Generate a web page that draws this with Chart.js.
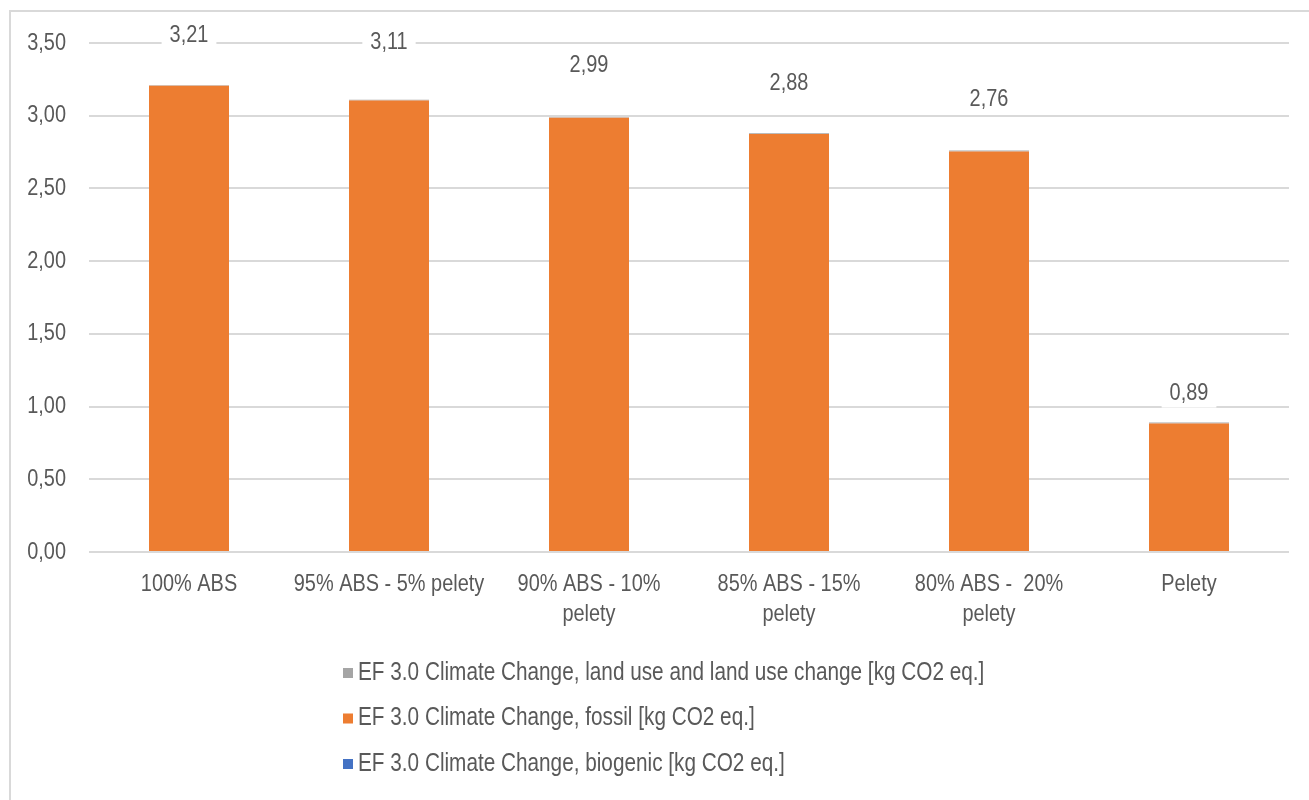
<!DOCTYPE html>
<html>
<head>
<meta charset="utf-8">
<title>EF 3.0 Climate Change</title>
<script src="https://cdn.jsdelivr.net/npm/chart.js@4/dist/chart.umd.min.js"></script>
<style>
  html, body { margin: 0; padding: 0; background: #ffffff; }
  canvas { display: block; }
</style>
</head>
<body>
<canvas id="chart" width="1309" height="800"></canvas>
<script>
// Mixtures of ABS and pellets
const categories = [
  '100% ABS',
  '95% ABS - 5% pelety',
  ['90% ABS - 10%', 'pelety'],
  ['85% ABS - 15%', 'pelety'],
  ['80% ABS -  20%', 'pelety'],
  'Pelety'
];

// kg CO2 eq. per component
const landUse  = [0.004, 0.006, 0.004, 0.005, 0.006, 0.007];
const fossil   = [3.206, 3.104, 2.986, 2.875, 2.754, 0.883];
const biogenic = [0, 0, 0, 0, 0, 0];

const seriesNames = [
  'EF 3.0 Climate Change, land use and land use change [kg CO2 eq.]',
  'EF 3.0 Climate Change, fossil [kg CO2 eq.]',
  'EF 3.0 Climate Change, biogenic [kg CO2 eq.]'
];
const seriesColors = ['#A5A5A5', '#ED7D31', '#4472C4'];

const yTicks = [0, 0.5, 1, 1.5, 2, 2.5, 3, 3.5];

const FAMILY = "'Liberation Sans', Arial, sans-serif";
const NARROW = 0.83;          // horizontal squeeze for a narrow face
const TEXT = '#595959';
const fmt = v => v.toFixed(2).replace('.', ',');

// write narrow text at (x, y)
function narrowText(ctx, text, x, y, align, size) {
  ctx.save();
  ctx.translate(x, y);
  ctx.scale(NARROW, 1);
  ctx.font = (size || 24) + 'px ' + FAMILY;
  ctx.textAlign = align;
  ctx.textBaseline = 'middle';
  ctx.fillText(text, 0, 0);
  ctx.restore();
}
function narrowWidth(ctx, text, size) {
  ctx.save();
  ctx.font = (size || 24) + 'px ' + FAMILY;
  const w = ctx.measureText(text).width * NARROW;
  ctx.restore();
  return w;
}

// outer frame around the chart
const framePlugin = {
  id: 'frame',
  beforeDraw(chart) {
    const ctx = chart.ctx;
    ctx.save();
    ctx.fillStyle = '#ffffff';
    ctx.fillRect(0, 0, chart.width, chart.height);
    ctx.strokeStyle = '#d9d9d9';
    ctx.lineWidth = 2;
    ctx.strokeRect(10, 11, chart.width + 20, chart.height + 20);
    ctx.restore();
  }
};

// axis labels in the narrow face, placed on the library's scales
const axisLabelsPlugin = {
  id: 'axisLabels',
  afterDraw(chart, args, opts) {
    const ctx = chart.ctx;
    const { x: xs, y: ys } = chart.scales;
    ctx.save();
    ctx.fillStyle = TEXT;
    ys.ticks.forEach((t, i) => {
      narrowText(ctx, fmt(t.value), xs.left - opts.yGap, ys.getPixelForTick(i), 'right');
    });
    categories.forEach((c, i) => {
      const lines = Array.isArray(c) ? c : [c];
      const cx = xs.getPixelForTick(i);
      lines.forEach((line, k) => {
        narrowText(ctx, line, cx, ys.bottom + opts.xGap + k * opts.lineHeight, 'center');
      });
    });
    ctx.restore();
  }
};

// stacked totals above each column, on a white patch over the gridlines
const totalsPlugin = {
  id: 'totals',
  afterDatasetsDraw(chart, args, opts) {
    const ctx = chart.ctx;
    const yScale = chart.scales.y;
    const meta = chart.getDatasetMeta(0);
    ctx.save();
    categories.forEach((c, i) => {
      const total = landUse[i] + fossil[i] + biogenic[i];
      const text = fmt(total);
      const x = meta.data[i].x;
      const y = yScale.getPixelForValue(total) - opts.lift[i];
      const w = narrowWidth(ctx, text) + 16;
      ctx.fillStyle = '#ffffff';
      ctx.fillRect(x - w / 2, y - 14, w, 28);
      ctx.fillStyle = TEXT;
      narrowText(ctx, text, x, y, 'center');
    });
    ctx.restore();
  }
};

// vertical legend below the axis
const stackLegendPlugin = {
  id: 'stackLegend',
  afterDraw(chart, args, opts) {
    const ctx = chart.ctx;
    ctx.save();
    seriesNames.forEach((name, i) => {
      const y = opts.top + i * opts.rowGap;
      ctx.fillStyle = seriesColors[i];
      ctx.fillRect(opts.left, y - 5, 10, 10);
      ctx.fillStyle = TEXT;
      narrowText(ctx, name, opts.left + 15, y, 'left', opts.size);
    });
    ctx.restore();
  }
};

new Chart(document.getElementById('chart'), {
  type: 'bar',
  data: {
    labels: categories,
    datasets: [
      { label: seriesNames[2], data: biogenic, backgroundColor: seriesColors[2] },
      { label: seriesNames[1], data: fossil, backgroundColor: seriesColors[1] },
      { label: seriesNames[0], data: landUse, backgroundColor: seriesColors[0] }
    ]
  },
  options: {
    responsive: false,
    animation: false,
    datasets: { bar: { categoryPercentage: 1, barPercentage: 0.4, borderWidth: 0 } },
    layout: { padding: { left: 10, right: 20, top: 43, bottom: 148 } },
    plugins: {
      legend: { display: false },
      tooltip: { enabled: false },
      totals: { lift: [50, 57, 52, 50, 51, 29] },
      axisLabels: { yGap: 23, xGap: 32, lineHeight: 30 },
      stackLegend: { left: 343, top: 673, rowGap: 45.5, size: 25 }
    },
    scales: {
      x: {
        stacked: true,
        grid: { display: false },
        border: { display: false },
        ticks: { display: false },
        afterFit(scale) { scale.height = 100; }
      },
      y: {
        stacked: true,
        min: 0,
        max: 3.5,
        afterBuildTicks(scale) { scale.ticks = yTicks.map(v => ({ value: v })); },
        grid: { color: '#d9d9d9', lineWidth: 2, drawTicks: false },
        border: { display: false },
        ticks: { display: false },
        afterFit(scale) { scale.width = 79; }
      }
    }
  },
  plugins: [framePlugin, axisLabelsPlugin, totalsPlugin, stackLegendPlugin]
});
</script>
</body>
</html>
